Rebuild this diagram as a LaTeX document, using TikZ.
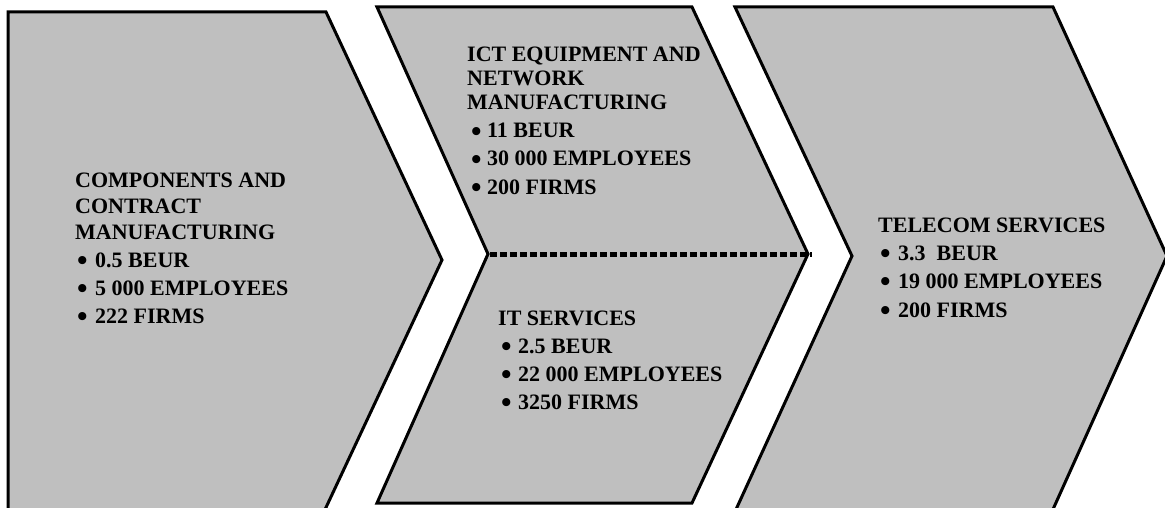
\documentclass[tikz,border=0pt]{standalone}
\usepackage{fontspec}
\setmainfont{Liberation Serif}
\definecolor{chevgray}{RGB}{191,191,191}
\tikzset{
  chev/.style={draw=black, fill=chevgray, line width=3pt, line join=miter},
  txt/.style={anchor=base west, inner sep=0pt, font=\bfseries\fontsize{22}{26}\selectfont},
  divider/.style={draw=black, line width=5pt, dash pattern=on 7pt off 3pt}
}
\newcommand{\bul}[1]{\makebox[#1][l]{\raisebox{-3.5pt}{\fontsize{30}{30}\selectfont\textbullet}}}
\begin{document}
\begin{tikzpicture}[x=1pt,y=-1pt]
\useasboundingbox (0,0) rectangle (1165,508);
\clip (0,0) rectangle (1165,508);
% chevrons
\path[chev] (8,12) -- (326,12) -- (442,260) -- (322,516) -- (8,516) -- cycle;
\path[chev] (377,7) -- (692,7) -- (808,254) -- (692,503) -- (377,503) -- (488,254) -- cycle;
\path[chev] (735,7) -- (1053,7) -- (1167,256) -- (1050,516) -- (733,516) -- (852,256) -- cycle;
% divider
\coordinate (dl) at (490,254);
\coordinate (dr) at (812,254);
\draw[divider] (dl) -- (dr);
% block 1
\node[txt] (a1) at (75,187) {COMPONENTS AND};
\node[txt] (a2) at (75,213) {CONTRACT};
\node[txt] (a3) at (75,239) {MANUFACTURING};
\node[txt] (a4) at (77,267) {\bul{18pt}0.5 BEUR};
\node[txt] (a5) at (77,295) {\bul{18pt}5 000 EMPLOYEES};
\node[txt] (a6) at (77,323) {\bul{18pt}222 FIRMS};
% block 2 top
\node[txt] (b1) at (467,62) {ICT EQUIPMENT AND};
\node[txt] (b2) at (467,86) {NETWORK};
\node[txt] (b3) at (467,110) {MANUFACTURING};
\node[txt] (b4) at (471,138) {\bul{16pt}11 BEUR};
\node[txt] (b5) at (471,166) {\bul{16pt}30 000 EMPLOYEES};
\node[txt] (b6) at (471,194) {\bul{16pt}200 FIRMS};
% block 2 bottom
\node[txt] (c1) at (498,325) {IT SERVICES};
\node[txt] (c2) at (501,353) {\bul{17pt}2.5 BEUR};
\node[txt] (c3) at (501,381) {\bul{17pt}22 000 EMPLOYEES};
\node[txt] (c4) at (501,409) {\bul{17pt}3250 FIRMS};
% block 3
\node[txt] (d1) at (878,232) {TELECOM SERVICES};
\node[txt] (d2) at (880,260) {\bul{18pt}3.3\ \ BEUR};
\node[txt] (d3) at (880,288) {\bul{18pt}19 000 EMPLOYEES};
\node[txt] (d4) at (880,317) {\bul{18pt}200 FIRMS};
\end{tikzpicture}
\end{document}
